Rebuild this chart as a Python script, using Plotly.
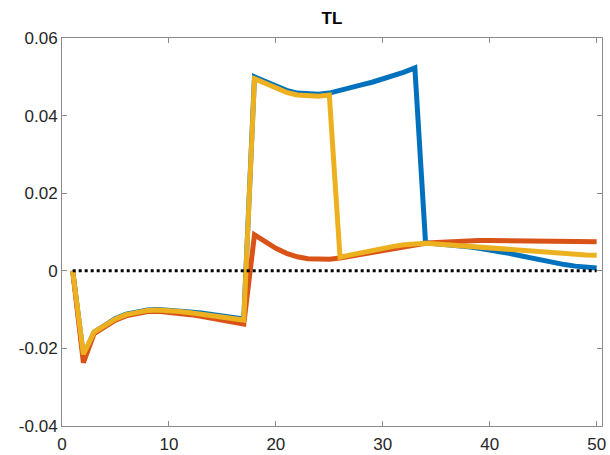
import plotly.graph_objects as go

# Periods
periods = list(range(1, 51))

# Response of TL under three scenarios
series_blue = [
    0.0, -0.0220, -0.0158, -0.0139, -0.0123, -0.0112, -0.0105, -0.0101, -0.0100, -0.0101,
    -0.0103, -0.0106, -0.0109, -0.0112, -0.0116, -0.0120, -0.0124,
    0.0500, 0.0488, 0.0475, 0.0465, 0.0458, 0.0455, 0.0455, 0.0458,
    0.0464, 0.0471, 0.0479, 0.0486, 0.0494, 0.0503, 0.0512, 0.0523,
    0.0072, 0.0070, 0.0068, 0.0065, 0.0062, 0.0058, 0.0054, 0.0049, 0.0044,
    0.0038, 0.0032, 0.0027, 0.0021, 0.0016, 0.0012, 0.0009, 0.0007,
]
series_orange = [
    0.0, -0.0237, -0.0162, -0.0143, -0.0127, -0.0116, -0.0109, -0.0105, -0.0104, -0.0106,
    -0.0109, -0.0113, -0.0117, -0.0122, -0.0127, -0.0132, -0.0137,
    0.0093, 0.0075, 0.0058, 0.0045, 0.0036, 0.0031, 0.0029, 0.0030,
    0.0033, 0.0038, 0.0043, 0.0048, 0.0054, 0.0059, 0.0064, 0.0068,
    0.0071, 0.0073, 0.0075, 0.0076, 0.0077, 0.0078, 0.0078, 0.0078, 0.0078,
    0.0077, 0.0077, 0.0077, 0.0076, 0.0076, 0.0076, 0.0075, 0.0075,
]
series_yellow = [
    0.0, -0.0215, -0.0158, -0.0140, -0.0124, -0.0113, -0.0106, -0.0102, -0.0101, -0.0102,
    -0.0105, -0.0108, -0.0112, -0.0115, -0.0119, -0.0123, -0.0127,
    0.0495, 0.0483, 0.0470, 0.0460, 0.0453, 0.0450, 0.0450, 0.0453,
    0.0035, 0.0041, 0.0047, 0.0053, 0.0058, 0.0063, 0.0067, 0.0069,
    0.0071, 0.0069, 0.0067, 0.0064, 0.0062, 0.0059, 0.0057, 0.0054, 0.0052,
    0.0050, 0.0048, 0.0046, 0.0044, 0.0043, 0.0042, 0.0041, 0.0040,
]
zero_line = [0.0] * len(periods)

x_ticks = [0, 10, 20, 30, 40, 50]
y_ticks = [-0.04, -0.02, 0, 0.02, 0.04, 0.06]
y_tick_labels = ["-0.04", "-0.02", "0", "0.02", "0.04", "0.06"]

fig = go.Figure()
for ys, col in [(series_blue, "#0072BD"), (series_orange, "#D95319"), (series_yellow, "#EDB120")]:
    fig.add_trace(go.Scatter(x=periods, y=ys, mode="lines",
                             line=dict(color=col, width=5), showlegend=False))
fig.add_trace(go.Scatter(x=periods, y=zero_line, mode="lines",
                         line=dict(color="black", width=3, dash="dot"), showlegend=False))

axis_common = dict(
    showline=True, linecolor="#8a8a8a", linewidth=1, mirror="ticks",
    ticks="inside", ticklen=5, tickcolor="#8a8a8a", showgrid=False, zeroline=False,
    automargin=False,
    tickfont=dict(family="Liberation Sans, Arial, sans-serif", size=17, color="#262626"),
)

fig.update_layout(
    width=610, height=455,
    margin=dict(l=62, r=8, t=38, b=29),
    paper_bgcolor="white", plot_bgcolor="white",
    title=dict(text="<b>TL</b>", x=(62 + 602) / 2 / 610, xanchor="center",
               y=1 - 18 / 455, yanchor="middle",
               font=dict(family="Liberation Sans, Arial, sans-serif", size=17, color="black")),
    xaxis=dict(range=[0, 50.5], tickvals=x_ticks, ticklabelstandoff=3, **axis_common),
    yaxis=dict(range=[-0.04, 0.06], tickvals=y_ticks, ticktext=y_tick_labels, **axis_common),
)

fig.write_html("out.html")
